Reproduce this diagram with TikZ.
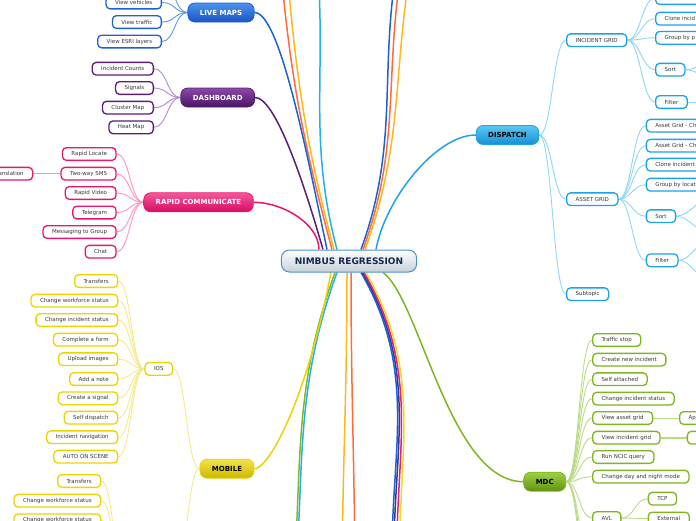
\documentclass[tikz,border=0pt]{standalone}
\usepackage{fontspec}
\setmainfont{DejaVu Sans}
\usetikzlibrary{calc,backgrounds}

\definecolor{rtB}{HTML}{4A92CF}
\definecolor{rtF}{HTML}{C5D0D9}
\definecolor{rtT}{HTML}{13294F}
\definecolor{lmB}{HTML}{1D61D6}
\definecolor{lmT}{HTML}{4C92EE}
\definecolor{lmF}{HTML}{1A55C2}
\definecolor{lmL}{HTML}{5E97EA}
\definecolor{dbB}{HTML}{5A1D78}
\definecolor{dbT}{HTML}{8A4AA8}
\definecolor{dbF}{HTML}{4A1465}
\definecolor{dbL}{HTML}{B48BC8}
\definecolor{rcB}{HTML}{E8166E}
\definecolor{rcT}{HTML}{F5579A}
\definecolor{rcF}{HTML}{D80C62}
\definecolor{rcL}{HTML}{FF92BF}
\definecolor{mbB}{HTML}{EBD400}
\definecolor{mbT}{HTML}{F2E44A}
\definecolor{mbF}{HTML}{CDB800}
\definecolor{mbL}{HTML}{F5E98C}
\definecolor{diB}{HTML}{1CA2E8}
\definecolor{diT}{HTML}{5CC8F4}
\definecolor{diF}{HTML}{1590D2}
\definecolor{diL}{HTML}{8ED6F6}
\definecolor{mdB}{HTML}{7FB51E}
\definecolor{mdT}{HTML}{A2CF4A}
\definecolor{mdF}{HTML}{5E930E}
\definecolor{mdL}{HTML}{B9DA86}
\definecolor{cOr}{HTML}{FF6B3B}
\definecolor{cAm}{HTML}{FFB81C}
\definecolor{cCy}{HTML}{22B1EE}
\definecolor{cBl}{HTML}{1F5FD6}
\definecolor{cNv}{HTML}{26409A}
\definecolor{cPk}{HTML}{EE1B74}
\definecolor{cYe}{HTML}{EFDE1E}
\definecolor{cGr}{HTML}{86B81C}

\begin{document}
\begin{tikzpicture}[x=1pt,y=-1pt,
   hub/.style={draw=rtB,top color=white,bottom color=rtF,rounded corners=8pt,line width=1pt,
     minimum height=22pt,inner xsep=13.5pt,inner ysep=0pt,text=rtT,font=\fontsize{9}{10}\selectfont\bfseries},
   topic/.style={draw,rounded corners=7pt,line width=0.8pt,minimum height=19pt,inner xsep=12pt,
     inner ysep=0pt,font=\fontsize{7}{8}\selectfont\bfseries},
   leaf/.style={draw,fill=white,rounded corners=4pt,line width=1.3pt,minimum height=12.7pt,
     inner xsep=9pt,inner ysep=0pt,text=black!78,font=\fontsize{5.5}{6.5}\selectfont},
   br/.style={line width=1.5pt},
   ln/.style={line width=0.9pt}]
  \useasboundingbox (0,0) rectangle (696,520);

  \node[hub] (root) at (349,261) {NIMBUS REGRESSION};

  % left side
  \node[topic,draw=lmB,top color=lmT,bottom color=lmF,text=white] (lm) at (221,12.5) {LIVE MAPS};
  \node[leaf,draw=lmB,anchor=east] (lm1) at (162,2.5) {View vehicles};
  \node[leaf,draw=lmB,anchor=east] (lm2) at (162,22) {View traffic};
  \node[leaf,draw=lmB,anchor=east] (lm3) at (162,41.5) {View ESRI layers};
  \coordinate (lm0) at (162,-18);

  \node[topic,draw=dbB,top color=dbT,bottom color=dbF,text=white] (db) at (217.7,97.5) {DASHBOARD};
  \node[leaf,draw=dbB,anchor=east] (db1) at (154,68.7) {Incident Counts};
  \node[leaf,draw=dbB,anchor=east] (db2) at (154,88) {Signals};
  \node[leaf,draw=dbB,anchor=east] (db3) at (154,107.7) {Cluster Map};
  \node[leaf,draw=dbB,anchor=east] (db4) at (154,127.3) {Heat Map};

  \node[topic,draw=rcB,top color=rcT,bottom color=rcF,text=white] (rc) at (198.5,202.3) {RAPID COMMUNICATE};
  \node[leaf,draw=rcB,anchor=east] (rc1) at (116.7,154) {Rapid Locate};
  \node[leaf,draw=rcB,anchor=east] (rc2) at (116.7,173.7) {Two-way SMS};
  \node[leaf,draw=rcB,anchor=east] (rc3) at (116.7,193) {Rapid Video};
  \node[leaf,draw=rcB,anchor=east] (rc4) at (116.7,212.5) {Telegram};
  \node[leaf,draw=rcB,anchor=east] (rc5) at (116.7,232) {Messaging to Group};
  \node[leaf,draw=rcB,anchor=east] (rc6) at (116.7,251.7) {Chat};
  \node[leaf,draw=rcB,anchor=east] (tr) at (33.3,173.7) {Translation};

  \node[topic,draw=mbB,top color=mbT,bottom color=mbF,text=black] (mob) at (227,468.7) {MOBILE};
  \node[leaf,draw=mbB] (ios) at (158.8,368.8) {IOS};
  \node[leaf,draw=mbB,anchor=east] (io1) at (118.3,281) {Transfers};
  \node[leaf,draw=mbB,anchor=east] (io2) at (118.3,300.7) {Change workforce status};
  \node[leaf,draw=mbB,anchor=east] (io3) at (118.3,320) {Change incident status};
  \node[leaf,draw=mbB,anchor=east] (io4) at (118.3,339.7) {Complete a form};
  \node[leaf,draw=mbB,anchor=east] (io5) at (118.3,359.2) {Upload images};
  \node[leaf,draw=mbB,anchor=east] (io6) at (118.3,379) {Add a note};
  \node[leaf,draw=mbB,anchor=east] (io7) at (118.3,398.3) {Create a signal};
  \node[leaf,draw=mbB,anchor=east] (io8) at (118.3,417.7) {Self dispatch};
  \node[leaf,draw=mbB,anchor=east] (io9) at (118.3,437.2) {Incident navigation};
  \node[leaf,draw=mbB,anchor=east] (io10) at (118.3,456.7) {AUTO ON SCENE};
  \node[leaf,draw=mbB,anchor=east] (an1) at (101.3,481) {Transfers};
  \node[leaf,draw=mbB,anchor=east] (an2) at (101.3,500.7) {Change workforce status};
  \node[leaf,draw=mbB,anchor=east] (an3) at (101.3,520.3) {Change workforce status};
  \coordinate (anR) at (173,590);
  \coordinate (anL) at (127,590);

  % right side
  \node[topic,draw=diB,top color=diT,bottom color=diF,text=black] (dis) at (507.5,135) {DISPATCH};
  \node[leaf,draw=diB,anchor=west] (ig) at (566,40.2) {INCIDENT GRID};
  \node[leaf,draw=diB,anchor=west] (ag) at (566,199.2) {ASSET GRID};
  \node[leaf,draw=diB,anchor=west] (sbt) at (566,294.2) {Subtopic};
  \node[leaf,draw=diB,anchor=west] (ig1) at (655,-2) {Incident Gr};
  \node[leaf,draw=diB,anchor=west] (ig2) at (655,18.7) {Clone incid};
  \node[leaf,draw=diB,anchor=west] (ig3) at (655,37.8) {Group by p};
  \node[leaf,draw=diB,anchor=west] (ig4) at (655,69.7) {Sort};
  \node[leaf,draw=diB,anchor=west] (ig5) at (655,102) {Filter};
  \coordinate (igs1) at (715,60);
  \coordinate (igs2) at (715,80);
  \coordinate (igf1) at (720,102);
  \node[leaf,draw=diB,anchor=west] (ag1) at (645.7,125.7) {Asset Grid - Ch};
  \node[leaf,draw=diB,anchor=west] (ag2) at (645.7,145.7) {Asset Grid - Ch};
  \node[leaf,draw=diB,anchor=west] (ag3) at (645.7,164.7) {Clone incident};
  \node[leaf,draw=diB,anchor=west] (ag4) at (645.7,184.7) {Group by locat};
  \node[leaf,draw=diB,anchor=west] (ag5) at (645.7,216.2) {Sort};
  \node[leaf,draw=diB,anchor=west] (ag6) at (645.7,260.3) {Filter};
  \coordinate (ags1) at (715,195);
  \coordinate (ags2) at (715,237);
  \coordinate (agf1) at (712,238);
  \coordinate (agf2) at (712,282);

  \node[topic,draw=mdB,top color=mdT,bottom color=mdF,text=black] (mdc) at (544.7,481.7) {MDC};
  \node[leaf,draw=mdB,anchor=west] (md1) at (592,340) {Traffic stop};
  \node[leaf,draw=mdB,anchor=west] (md2) at (592,359.7) {Create new incident};
  \node[leaf,draw=mdB,anchor=west] (md3) at (592,379.2) {Self attached};
  \node[leaf,draw=mdB,anchor=west] (md4) at (592,398.7) {Change incident status};
  \node[leaf,draw=mdB,anchor=west] (md5) at (592,418) {View asset grid};
  \node[leaf,draw=mdB,anchor=west] (md6) at (592,437.7) {View incident grid};
  \node[leaf,draw=mdB,anchor=west] (md7) at (592,457) {Run NCIC query};
  \node[leaf,draw=mdB,anchor=west] (md8) at (592,476.7) {Change day and night mode};
  \node[leaf,draw=mdB,anchor=west] (md9) at (592,518) {AVL};
  \node[leaf,draw=mdB,anchor=west] (app) at (679,418) {Ap};
  \node[leaf,draw=mdB,anchor=west] (vig) at (686.7,437.7) {};
  \node[leaf,draw=mdB,anchor=west] (tcp) at (647.7,498.7) {TCP};
  \node[leaf,draw=mdB,anchor=west] (ext) at (647.7,518.5) {External};
  \coordinate (md10) at (592,560);
  \coordinate (md11) at (592,580);
  \coordinate (md12) at (592,600);

  % branches off the page
  \coordinate (up1) at (280,-40);
  \coordinate (up2) at (286,-40);
  \coordinate (up3) at (317,-40);
  \coordinate (up4) at (398,-40);
  \coordinate (up5) at (403,-40);
  \coordinate (up6) at (412,-40);
  \coordinate (dn1) at (292,600);
  \coordinate (dn2) at (294,600);
  \coordinate (dn3) at (342,600);
  \coordinate (dn4) at (355,600);
  \coordinate (dn5) at (394,600);
  \coordinate (dn6) at (396,600);
  \coordinate (dn7) at (399,600);
  \coordinate (dn8) at (402,600);

  \begin{scope}[on background layer]
    \foreach \d/\c/\t in {-17/cOr/up1,-15/cAm/up2,-12/cCy/up3}
      \draw[br,\c] ($(root.north)+(\d,0)$) to[out=105,in=-85] (\t);
    \foreach \d/\c/\t in {12/cBl/up4,14/cOr/up5,16/cAm/up6}
      \draw[br,\c] ($(root.north)+(\d,0)$) to[out=70,in=-100] (\t);
    \foreach \d/\c/\t in {-14/cGr/dn1,-12/cCy/dn2}
      \draw[br,\c] ($(root.south)+(\d,0)$) to[out=-110,in=85] (\t);
    \foreach \d/\c/\t in {-2/cAm/dn3,2/cOr/dn4}
      \draw[br,\c] ($(root.south)+(\d,0)$) to[out=-90,in=90] (\t);
    \foreach \d/\c/\t in {12/cBl/dn5,13.5/cNv/dn6,15/cPk/dn7,17/cYe/dn8}
      \draw[br,\c] ($(root.south)+(\d,0)$) to[out=-60,in=95] (\t);

    \draw[br,lmB] (lm.east) .. controls +(25,0) and +(-21,-100) .. ($(root.north)+(-22,0)$);
    \draw[br,dbB] (db.east) .. controls +(20,0) and +(-20,-70) .. ($(root.north)+(-26,0)$);
    \draw[br,rcB] (rc.east) .. controls +(30,0) and +(0,-25) .. ($(root.north)+(-30,0)$);
    \draw[br,mbB] (mob.east) .. controls +(14,0) and +(-25,130) .. ($(root.south)+(-18,0)$);
    \draw[br,diB] ($(root.north)+(27,0)$) .. controls +(9,-50) and +(-40,0) .. (dis.west);
    \draw[br,mdB] ($(root.south)+(34,0)$) .. controls +(37,27) and +(-74,0) .. (mdc.west);

    \foreach \c in {lm1.east,lm2.east,lm3.east,lm0}
      \draw[ln,lmL] (lm.west) .. controls +(-13,0) and +(13,0) .. (\c);
    \foreach \c in {db1,db2,db3,db4}
      \draw[ln,dbL] (db.west) .. controls +(-13,0) and +(13,0) .. (\c.east);
    \foreach \c in {rc1,rc2,rc3,rc4,rc5,rc6}
      \draw[ln,rcL] (rc.west) .. controls +(-13,0) and +(13,0) .. (\c.east);
    \draw[ln,rcL] (rc2.west) -- (tr.east);
    \foreach \c in {ios.east,anR}
      \draw[ln,mbL] (mob.west) .. controls +(-13,0) and +(13,0) .. (\c);
    \foreach \c in {io1,io2,io3,io4,io5,io6,io7,io8,io9,io10}
      \draw[ln,mbL] (ios.west) .. controls +(-13,0) and +(13,0) .. (\c.east);
    \foreach \c in {an1,an2,an3}
      \draw[ln,mbL] (anL) .. controls +(-13,0) and +(13,0) .. (\c.east);

    \foreach \c in {ig,ag,sbt}
      \draw[ln,diL] (dis.east) .. controls +(13,0) and +(-13,0) .. (\c.west);
    \foreach \c in {ig1,ig2,ig3,ig4,ig5}
      \draw[ln,diL] (ig.east) .. controls +(13,0) and +(-13,0) .. (\c.west);
    \foreach \c in {igs1,igs2}
      \draw[ln,diL] (ig4.east) .. controls +(13,0) and +(-13,0) .. (\c);
    \draw[ln,diL] (ig5.east) -- (igf1);
    \foreach \c in {ag1,ag2,ag3,ag4,ag5,ag6}
      \draw[ln,diL] (ag.east) .. controls +(13,0) and +(-13,0) .. (\c.west);
    \foreach \c in {ags1,ags2}
      \draw[ln,diL] (ag5.east) .. controls +(13,0) and +(-13,0) .. (\c);
    \foreach \c in {agf1,agf2}
      \draw[ln,diL] (ag6.east) .. controls +(13,0) and +(-13,0) .. (\c);

    \foreach \c in {md1.west,md2.west,md3.west,md4.west,md5.west,md6.west,md7.west,md8.west,md9.west,md10,md11,md12}
      \draw[ln,mdL] (mdc.east) .. controls +(13,0) and +(-13,0) .. (\c);
    \draw[ln,mdL] (md5.east) -- (app.west);
    \draw[ln,mdL,line width=1.6pt] (md6.east) -- (vig.west);
    \foreach \c in {tcp,ext}
      \draw[ln,mdL] (md9.east) .. controls +(13,0) and +(-13,0) .. (\c.west);
  \end{scope}
\end{tikzpicture}
\end{document}
